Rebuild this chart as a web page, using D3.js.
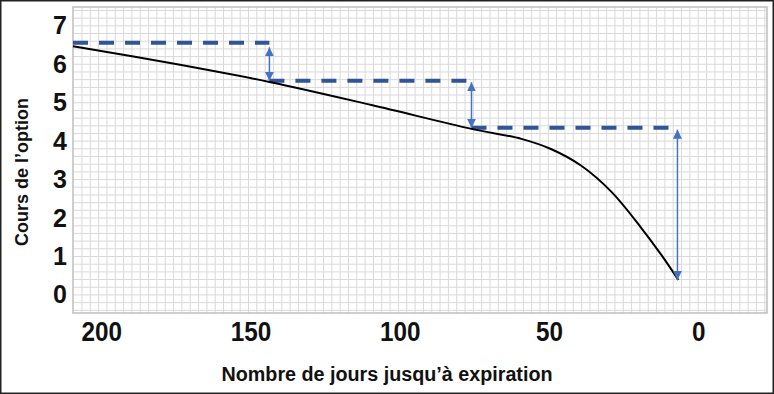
<!DOCTYPE html>
<html>
<head>
<meta charset="utf-8">
<script src="https://cdn.jsdelivr.net/npm/d3@7"></script>
<style>
  body { margin: 0; background: #fff; }
  svg { display: block; }
</style>
</head>
<body>
<svg id="chart"></svg>
<script>
var width = 774;
var height = 394;
var plotLeft = 73, plotRight = 767, plotTop = 7, plotBottom = 313;

// curve: option price vs days to expiration
var days   = [209.5, 176, 143.7, 109.5, 76, 59.3, 49.2, 39.2, 29.1, 19.1, 12.4, 6.7];
var prices = [6.47, 6.02, 5.54, 4.94, 4.32, 4.06, 3.79, 3.36, 2.68, 1.74, 1.04, 0.39];

// dashed levels and the arrows that drop between them
var levels     = [6.56, 5.57, 4.35];
var levelEnd   = [143.7, 76, 7];
var arrowDay   = [143.7, 76, 7];
var arrowFrom  = [6.44, 5.53, 4.30];
var arrowTo    = [5.57, 4.35, 0.39];

var xTicks = [200, 150, 100, 50, 0];
var yTicks = [0, 1, 2, 3, 4, 5, 6, 7];

var xScale = d3.scaleLinear().domain([209.5, -23]).range([plotLeft, plotRight]);
var yScale = d3.scaleLinear().domain([-0.47, 7.49]).range([plotBottom, plotTop]);

var svg = d3.select("#chart")
    .attr("width", width)
    .attr("height", height);

svg.append("rect")
    .attr("x", 0).attr("y", 0)
    .attr("width", width).attr("height", height)
    .attr("fill", "#fff");

// grid
var gx = d3.range(206.5, -23, -2.79);
var gy = d3.range(-0.4, 7.49, 0.2);

svg.append("g")
    .selectAll("line")
    .data(gx)
    .enter()
    .append("line")
    .attr("x1", d => xScale(d)).attr("x2", d => xScale(d))
    .attr("y1", plotTop).attr("y2", plotBottom)
    .attr("stroke", "#d9d9d9").attr("stroke-width", 1);

svg.append("g")
    .selectAll("line")
    .data(gy)
    .enter()
    .append("line")
    .attr("x1", plotLeft).attr("x2", plotRight)
    .attr("y1", d => yScale(d)).attr("y2", d => yScale(d))
    .attr("stroke", "#d9d9d9").attr("stroke-width", 1);

svg.append("rect")
    .attr("x", plotLeft).attr("y", plotTop)
    .attr("width", plotRight - plotLeft).attr("height", plotBottom - plotTop)
    .attr("fill", "none")
    .attr("stroke", "#bfbfbf")
    .attr("stroke-width", 1.5);

// axes
var xAxis = d3.axisBottom(xScale).tickValues(xTicks).tickSize(0).tickPadding(8);
var gX = svg.append("g").attr("transform", `translate(0,${plotBottom})`).call(xAxis);
gX.select(".domain").remove();
gX.selectAll("text")
    .attr("font-family", "'Liberation Sans', Arial, sans-serif")
    .attr("font-weight", "bold")
    .attr("font-size", 28)
    .attr("fill", "#111")
    .attr("textLength", d => String(d).length * 13.5)
    .attr("lengthAdjust", "spacingAndGlyphs");

var yAxis = d3.axisLeft(yScale).tickValues(yTicks).tickSize(0).tickPadding(6);
var gY = svg.append("g").attr("transform", `translate(${plotLeft},0)`).call(yAxis);
gY.select(".domain").remove();
gY.selectAll("text")
    .attr("font-family", "'Liberation Sans', Arial, sans-serif")
    .attr("font-weight", "bold")
    .attr("font-size", 25)
    .attr("fill", "#111");

// dashed levels
svg.append("g")
    .selectAll("line")
    .data(levels)
    .enter()
    .append("line")
    .attr("x1", (d, i) => i === 0 ? xScale(209.5) : xScale(levelEnd[i - 1]))
    .attr("x2", (d, i) => xScale(levelEnd[i]))
    .attr("y1", d => yScale(d)).attr("y2", d => yScale(d))
    .attr("stroke", "#2f5597")
    .attr("stroke-width", 4)
    .attr("stroke-dasharray", "15,11");

// curve
var line = d3.line()
    .x(d => xScale(d[0]))
    .y(d => yScale(d[1]))
    .curve(d3.curveCatmullRom.alpha(0.5));

svg.append("path")
    .datum(d3.zip(days, prices))
    .attr("d", line)
    .attr("fill", "none")
    .attr("stroke", "#000")
    .attr("stroke-width", 2);

// arrows
var defs = svg.append("defs");
defs.append("marker")
    .attr("id", "head")
    .attr("viewBox", "0 0 10 10")
    .attr("refX", 10).attr("refY", 5)
    .attr("markerWidth", 9).attr("markerHeight", 9)
    .attr("markerUnits", "userSpaceOnUse")
    .attr("orient", "auto-start-reverse")
    .append("path")
    .attr("d", "M0,0 L10,5 L0,10 Z")
    .attr("fill", "#4472c4");

svg.append("g")
    .selectAll("line")
    .data(arrowDay)
    .enter()
    .append("line")
    .attr("x1", d => xScale(d)).attr("x2", d => xScale(d))
    .attr("y1", (d, i) => yScale(arrowFrom[i]))
    .attr("y2", (d, i) => yScale(arrowTo[i]))
    .attr("stroke", "#4472c4")
    .attr("stroke-width", 1.5)
    .attr("marker-start", "url(#head)")
    .attr("marker-end", "url(#head)");

// titles
svg.append("text")
    .attr("x", 387).attr("y", 381)
    .attr("text-anchor", "middle")
    .attr("font-family", "'Liberation Sans', Arial, sans-serif")
    .attr("font-weight", "bold")
    .attr("font-size", 20)
    .attr("fill", "#111")
    .attr("textLength", 331)
    .attr("lengthAdjust", "spacingAndGlyphs")
    .text("Nombre de jours jusqu’à expiration");

svg.append("text")
    .attr("transform", "translate(28,172) rotate(-90)")
    .attr("text-anchor", "middle")
    .attr("font-family", "'Liberation Sans', Arial, sans-serif")
    .attr("font-weight", "bold")
    .attr("font-size", 18)
    .attr("fill", "#111")
    .text("Cours de l’option");

// outer frame
svg.append("rect")
    .attr("x", 0.75).attr("y", 0.75)
    .attr("width", width - 1.5).attr("height", height - 1.5)
    .attr("fill", "none")
    .attr("stroke", "#222")
    .attr("stroke-width", 1.5);
</script>
</body>
</html>
